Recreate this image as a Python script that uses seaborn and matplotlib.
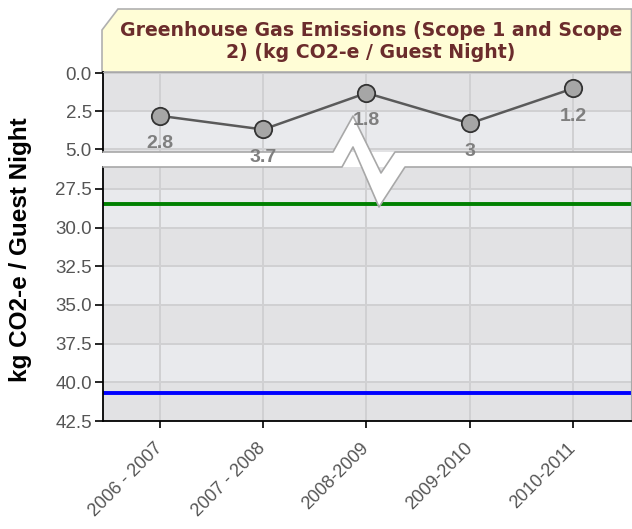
import numpy as np
import pandas as pd
import seaborn as sns
import matplotlib.pyplot as plt
from matplotlib.patches import Polygon
from matplotlib.lines import Line2D
from matplotlib.transforms import Bbox, TransformedBbox

# data
periods = ["2006 - 2007", "2007 - 2008", "2008-2009", "2009-2010", "2010-2011"]
emissions = [2.8, 3.7, 1.3, 3.3, 1.0]
point_labels = ["2.8", "3.7", "1.8", "3", "1.2"]
green_line = 28.5
blue_line = 40.7
top_ticks = [0.0, 2.5, 5.0]
bottom_ticks = [27.5, 30.0, 32.5, 35.0, 37.5, 40.0, 42.5]
title_lines = ["Greenhouse Gas Emissions (Scope 1 and Scope", "2) (kg CO2-e / Guest Night)"]
ylabel = "kg CO2-e / Guest Night"

sns.set_style("white")
plt.rcParams['font.family'] = ['Liberation Sans', 'DejaVu Sans']

W, H = 632, 529
fig = plt.figure(figsize=(W / 100, H / 100), dpi=100)


def fx(px):
    return px / W


def fy(py):
    return 1 - py / H


def pts(seq):
    return [(fx(x), fy(y)) for x, y in seq]


left, right = 103, 631
ax_bot = fig.add_axes([fx(left), fy(421), fx(right) - fx(left), fy(167) - fy(421)])
ax_top = fig.add_axes([fx(left), fy(152), fx(right) - fx(left), fy(72) - fy(152)])
ax_top.set_zorder(3)
ax_top.patch.set_visible(False)

dark, light = "#e2e2e4", "#e9eaed"
grid_c = "#d0d0d2"

# alternating background bands
for ax, lo, hi in [(ax_top, -2.5, 7.5), (ax_bot, 25.0, 45.0)]:
    for v in np.arange(lo, hi, 2.5):
        idx = int(round(v / 2.5))
        ax.axhspan(v, v + 2.5, color=dark if idx % 2 == 0 else light, zorder=0, lw=0)

df = pd.DataFrame({"pos": np.arange(len(periods)), "value": emissions})
sns.lineplot(data=df, x="pos", y="value", ax=ax_top, color="#5a5a5a", lw=1.8,
             marker="o", markersize=12.5, markerfacecolor="#a6a6a6",
             markeredgecolor="#333333", markeredgewidth=1.3, zorder=4)

ax_bot.axhline(green_line, color="#008000", lw=2.8, zorder=2)
ax_bot.axhline(blue_line, color="#0000ff", lw=2.8, zorder=2)

for ax in (ax_top, ax_bot):
    ax.set_xlim(-0.55, 4.56)
    ax.set_xticks(np.arange(len(periods)))
    ax.grid(True, color=grid_c, lw=1.4)
    ax.set_axisbelow(True)
    ax.set_xlabel("")
    ax.set_ylabel("")
    ax.tick_params(axis="y", length=6, width=1.2, color="black", labelcolor="#555555",
                   labelsize=13.5, pad=2, direction="out", left=True)
    ax.spines["left"].set_color("black")
    ax.spines["left"].set_linewidth(1.3)
    ax.spines["right"].set_color("#a8a8a8")

ax_top.set_ylim(5.18, -0.08)
ax_top.set_yticks(top_ticks)
ax_top.set_yticklabels([f"{t:.1f}" for t in top_ticks])
ax_top.tick_params(axis="x", length=0, labelbottom=False)
ax_top.spines["top"].set_color("#a8a8a8")
ax_top.spines["bottom"].set_visible(False)

ax_bot.set_ylim(42.5, 26.08)
ax_bot.set_yticks(bottom_ticks)
ax_bot.set_yticklabels([f"{t:.1f}" for t in bottom_ticks])
ax_bot.set_xticklabels(periods, rotation=45, ha="right", va="center", rotation_mode="anchor")
ax_bot.tick_params(axis="x", length=5, width=1.2, color="black", labelcolor="#555555",
                   labelsize=13, pad=13, bottom=True)
ax_bot.spines["top"].set_visible(False)
ax_bot.spines["bottom"].set_color("black")
ax_bot.spines["bottom"].set_linewidth(1.3)

# value labels under the points, hidden where the lower panel starts
clip = TransformedBbox(Bbox([[0, fy(167)], [1, 1]]), fig.transFigure)
for i, (v, s) in enumerate(zip(emissions, point_labels)):
    t = ax_top.annotate(s, (i, v), xytext=(0, -20), textcoords="offset points",
                        ha="center", va="center", color="#7f7f7f", fontsize=14,
                        fontweight="bold", zorder=5, annotation_clip=False)
    t.set_clip_box(clip)
    t.set_clip_on(True)

# axis break band with zigzag
upper = [(103, 152), (333, 152), (353, 116), (381, 173), (395, 152), (631, 152)]
lower = [(631, 167), (405, 167), (379, 207), (353, 147), (342, 167), (103, 167)]
band = Polygon(pts(upper + lower), closed=True, transform=fig.transFigure,
               fc="white", ec="none", zorder=2.6, clip_on=False)
ax_top.add_artist(band)
for edge in (upper, lower):
    xy = pts(edge)
    ln = Line2D([p[0] for p in xy], [p[1] for p in xy], transform=fig.transFigure,
                color="#a8a8a8", lw=1.2, zorder=2.7, clip_on=False)
    ax_top.add_artist(ln)

# title box
box = Polygon(pts([(102, 72), (102, 30), (118, 9), (631.5, 9), (631.5, 72)]), closed=True,
              transform=fig.transFigure, fc="#fffdd6", ec="#b0b0b0", lw=1.2)
fig.add_artist(box)
fig.text(fx(371), fy(30), title_lines[0], ha="center", va="center", color="#6b2c2c",
         fontsize=13.6, fontweight="bold", family="DejaVu Sans")
fig.text(fx(371), fy(53), title_lines[1], ha="center", va="center", color="#6b2c2c",
         fontsize=13.6, fontweight="bold", family="DejaVu Sans")

fig.text(fx(21), fy(250), ylabel, rotation=90, ha="center", va="center",
         fontsize=17.5, fontweight="bold", color="black")

fig.savefig("out.png", dpi=100)
